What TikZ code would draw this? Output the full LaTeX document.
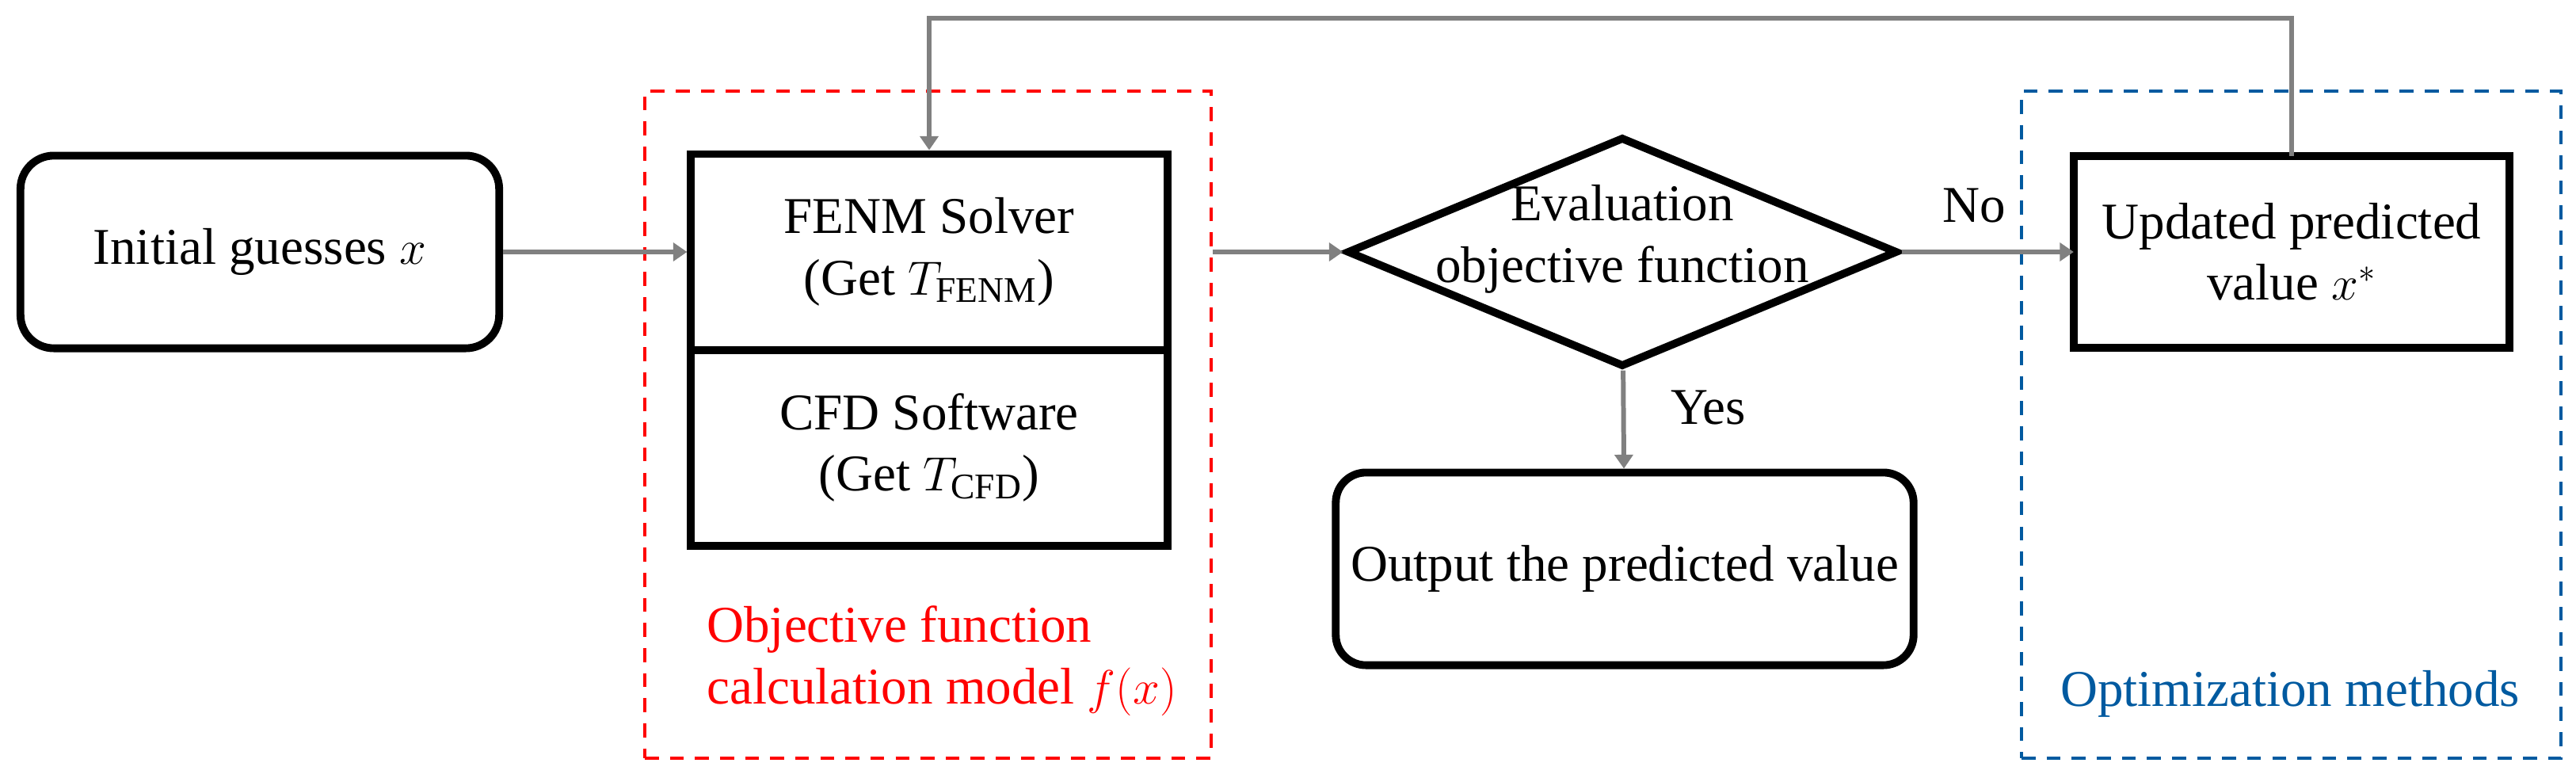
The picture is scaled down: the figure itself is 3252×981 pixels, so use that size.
\documentclass[tikz,border=0pt]{standalone}
\usepackage{fontspec}
\setmainfont{Liberation Serif}
\usetikzlibrary{positioning,shapes.geometric,arrows.meta,fit}
\definecolor{framered}{RGB}{255,0,0}
\definecolor{frameblue}{RGB}{0,90,160}
\definecolor{flowgray}{RGB}{128,128,128}

\begin{document}
\begin{tikzpicture}[x=0.01cm,y=-0.01cm,
    every node/.style={font=\fontsize{18.5}{22}\selectfont},
    rbox/.style={draw,line width=2.8pt,rounded corners=0.42cm,align=center,
        minimum height=2.43cm},
    sbox/.style={draw,line width=2.8pt,align=center,outer sep=0pt},
    decision/.style={diamond,draw,line width=2.8pt,inner sep=0pt,
        minimum width=6.95cm,minimum height=2.9cm},
    flow/.style={draw=flowgray,line width=1.7pt,
        -{Triangle[length=5pt,width=6.5pt]}},
    dashframe/.style={draw,dashed,line width=1.1pt,
        dash pattern=on 5pt off 4pt,inner sep=0pt}]
    \useasboundingbox (0,0) rectangle (3252,981);

    % boxes
    \node[rbox,minimum width=6.04cm] (init) at (328,318) {Initial guesses $x$};
    \node[sbox,minimum width=6.01cm,minimum height=2.47cm] (fenm) at (1173,318)
        {FENM Solver\\(Get $T_{\mathrm{FENM}}$)};
    \node[sbox,minimum width=6.01cm,minimum height=2.47cm,below=0pt of fenm] (cfd)
        {CFD Software\\(Get $T_{\mathrm{CFD}}$)};
    \node[decision] (eval) at (2048,318) {};
    \node[align=center] (evaltxt) at (2048,302) {Evaluation\\objective function};
    \node[rbox,minimum width=7.29cm,rounded corners=0.38cm] (out) at (2051,718)
        {Output the predicted value};
    \node[sbox,minimum width=5.5cm,minimum height=2.42cm] (upd) at (2893,318)
        {Updated predicted\\value $x^{*}$};

    % frames
    \node[dashframe,draw=framered,fit={(814,115) (1529,957)}] (redfr) {};
    \node[dashframe,draw=frameblue,fit={(2552,115) (3233,957)}] (bluefr) {};
    \node[anchor=west,align=left,text=framered] (redlbl) at (880,834)
        {Objective function\\calculation model $f(x)$};
    \node[text=frameblue] (bluelbl) at (2891,876) {Optimization methods};

    % connectors
    \coordinate (topline) at (0,23);
    \draw[flow,shorten >=1.4pt] (init) -- (fenm);
    \draw[flow] (fenm -| redfr.east) -- (eval);
    \draw[flow] (eval) -- node[above=0.22cm,pos=0.42] (nolbl) {No} (upd);
    \draw[flow] (eval) -- node[right=0.45cm,pos=0.38] (yeslbl) {Yes} (out);
    \draw[flow,shorten >=1.4pt] (upd.north) -- (upd.north |- topline) -| (fenm.north);
\end{tikzpicture}
\end{document}
